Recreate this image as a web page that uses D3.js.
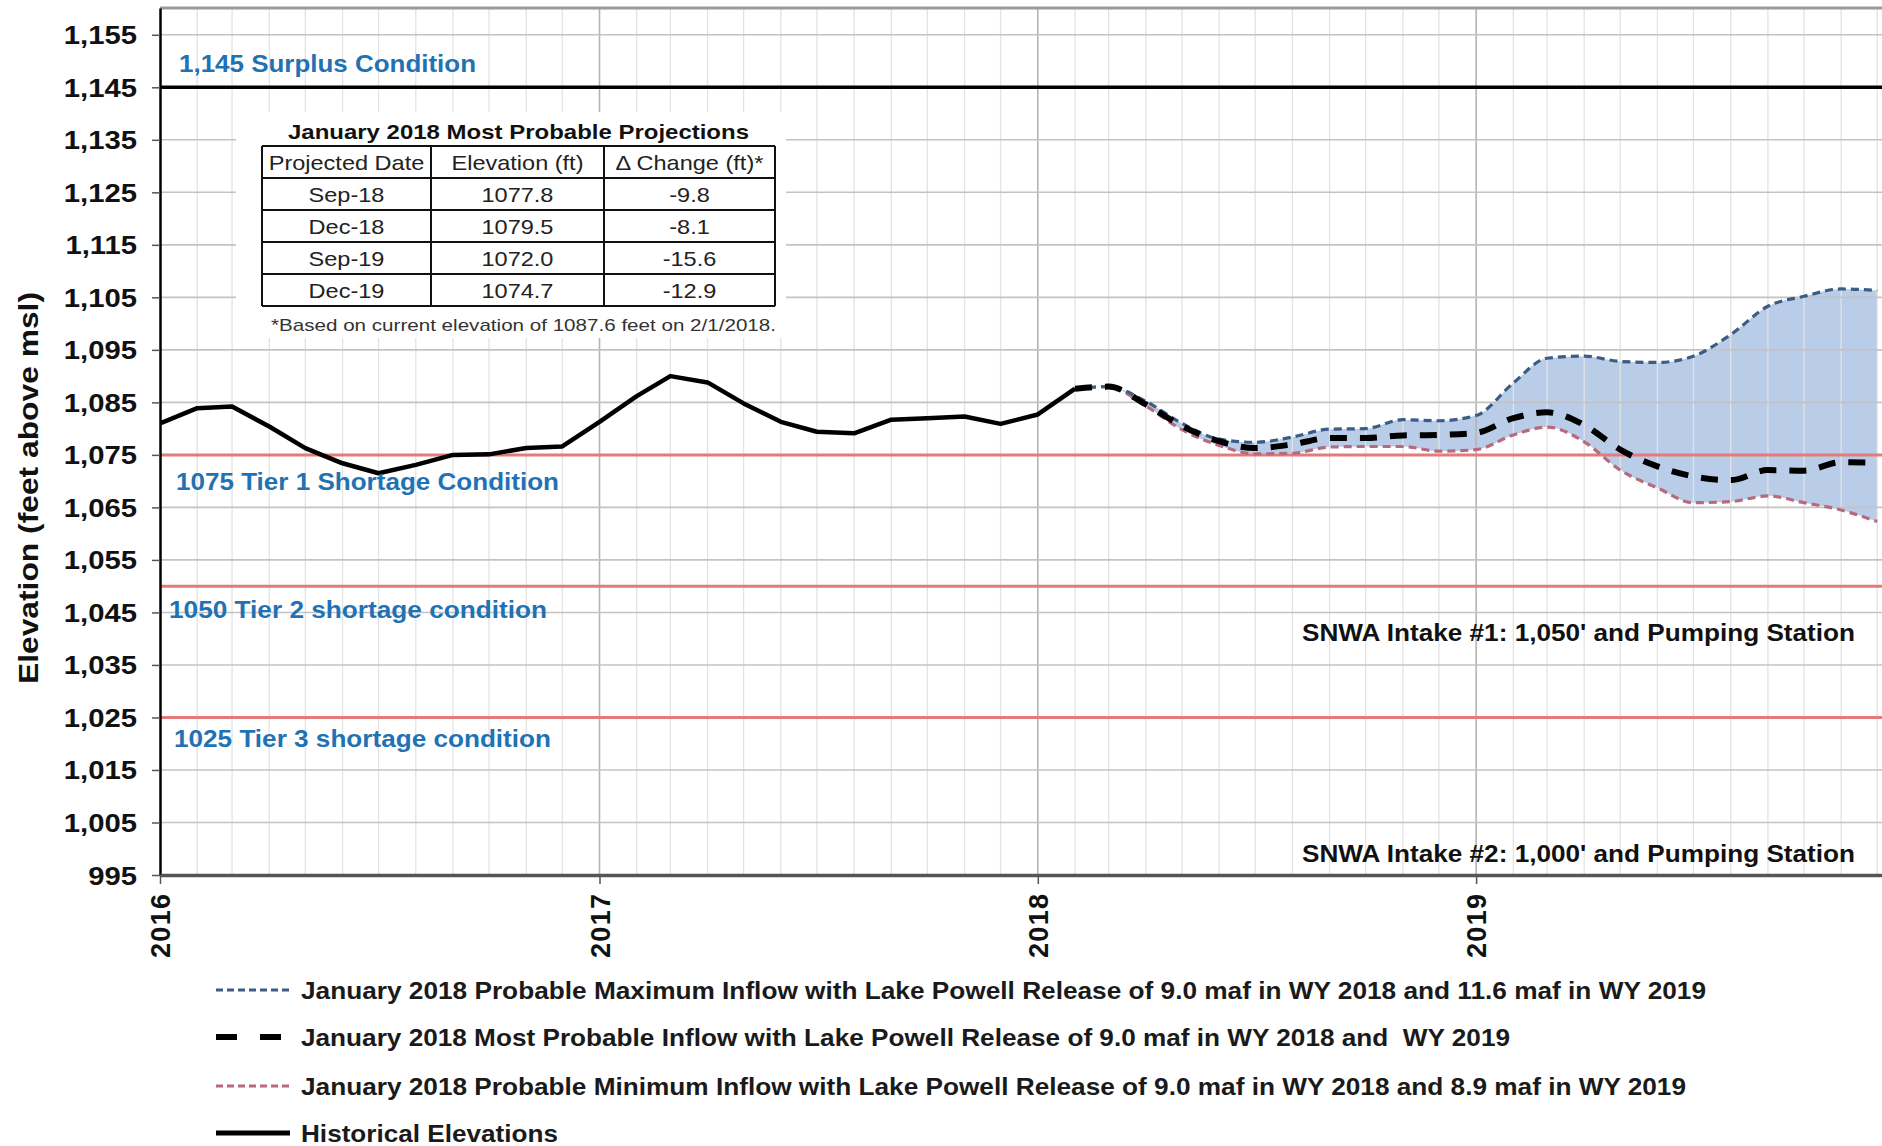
<!DOCTYPE html>
<html>
<head>
<meta charset="utf-8">
<script src="https://cdnjs.cloudflare.com/ajax/libs/d3/7.8.5/d3.min.js"></script>
<style>
  body { margin: 0; background: #fff; }
  svg text { font-family: "Liberation Sans", Arial, sans-serif; white-space: pre; }
</style>
</head>
<body>
<div id="chart"></div>
<script>
// ---- data ----
var histMonths = ["2016-01","2016-02","2016-03","2016-04","2016-05","2016-06","2016-07","2016-08","2016-09","2016-10","2016-11","2016-12",
                  "2017-01","2017-02","2017-03","2017-04","2017-05","2017-06","2017-07","2017-08","2017-09","2017-10","2017-11","2017-12",
                  "2018-01","2018-02"];
var histElev = [1081.0, 1083.9, 1084.2, 1080.4, 1076.3, 1073.4, 1071.5, 1073.1, 1075.0, 1075.1, 1076.3, 1076.6,
                1081.3, 1086.2, 1090.0, 1088.8, 1084.8, 1081.3, 1079.4, 1079.1, 1081.7, 1082.0, 1082.3, 1080.9,
                1082.7, 1087.6];

var projMonths = ["2018-02","2018-03","2018-04","2018-05","2018-06","2018-07","2018-08","2018-09","2018-10","2018-11","2018-12",
                  "2019-01","2019-02","2019-03","2019-04","2019-05","2019-06","2019-07","2019-08","2019-09","2019-10","2019-11","2019-12"];
var maxElev  = [1087.6, 1088.0, 1085.2, 1081.0, 1078.0, 1077.4, 1078.4, 1079.9, 1080.0, 1081.7, 1081.5,
                1082.5, 1088.7, 1093.4, 1093.8, 1092.8, 1092.6, 1093.8, 1097.9, 1103.3, 1105.2, 1106.6, 1106.3];
var mostElev = [1087.6, 1088.0, 1084.6, 1080.5, 1077.6, 1076.3, 1077.0, 1078.2, 1078.2, 1078.7, 1078.8,
                1079.2, 1082.0, 1083.1, 1080.7, 1076.0, 1072.8, 1070.9, 1070.2, 1072.1, 1072.0, 1073.6, 1073.5];
var minElev  = [1087.6, 1088.0, 1084.3, 1079.8, 1076.8, 1075.2, 1075.3, 1076.5, 1076.6, 1076.6, 1075.7,
                1076.0, 1078.8, 1080.3, 1077.5, 1072.1, 1068.7, 1065.9, 1066.1, 1067.2, 1065.9, 1064.5, 1062.3];

var yTicks = [995, 1005, 1015, 1025, 1035, 1045, 1055, 1065, 1075, 1085, 1095, 1105, 1115, 1125, 1135, 1145, 1155];
var yearTicks = ["2016", "2017", "2018", "2019"];

var refLevels = [1145, 1075, 1050, 1025];
var refLabels = ["1,145 Surplus Condition", "1075 Tier 1 Shortage Condition",
                 "1050 Tier 2 shortage condition", "1025 Tier 3 shortage condition"];
var intakeLevels = [1050, 1000];
var intakeLabels = ["SNWA Intake #1: 1,050' and Pumping Station", "SNWA Intake #2: 1,000' and Pumping Station"];

var tableTitle = "January 2018 Most Probable Projections";
var tableHeader = ["Projected Date", "Elevation (ft)", "\u0394 Change (ft)*"];
var tableDates = ["Sep-18", "Dec-18", "Sep-19", "Dec-19"];
var tableElev = ["1077.8", "1079.5", "1072.0", "1074.7"];
var tableChange = ["-9.8", "-8.1", "-15.6", "-12.9"];
var tableNote = "*Based on current elevation of 1087.6 feet on 2/1/2018.";

var legendLabels = [
  "January 2018 Probable Maximum Inflow with Lake Powell Release of 9.0 maf in WY 2018 and 11.6 maf in WY 2019",
  "January 2018 Most Probable Inflow with Lake Powell Release of 9.0 maf in WY 2018 and  WY 2019",
  "January 2018 Probable Minimum Inflow with Lake Powell Release of 9.0 maf in WY 2018 and 8.9 maf in WY 2019",
  "Historical Elevations"
];

// ---- layout ----
var svgWidth = 1882;
var svgHeight = 1146;
var plot = { left: 160, right: 1882, top: 8, bottom: 875 };

var svg = d3.select("#chart").append("svg")
  .attr("width", svgWidth)
  .attr("height", svgHeight);

var parseMonth = d3.timeParse("%Y-%m");

var x = d3.scaleTime()
  .domain([new Date(2016, 0, 1), new Date(2019, 11, 5)])
  .range([plot.left, plot.right]);

var y = d3.scaleLinear()
  .domain([995, 1160.1])
  .range([plot.bottom, plot.top]);

// stretch text horizontally like the (wide) original
function stretch(sel, k) {
  sel.each(function() {
    var w = this.getComputedTextLength();
    d3.select(this).attr("textLength", w * k).attr("lengthAdjust", "spacingAndGlyphs");
  });
}
function fitTo(sel, w) {
  sel.attr("textLength", w).attr("lengthAdjust", "spacingAndGlyphs");
}

svg.append("defs").append("clipPath").attr("id", "plotClip")
  .append("rect")
  .attr("x", plot.left).attr("y", plot.top)
  .attr("width", plot.right - plot.left).attr("height", plot.bottom - plot.top);

var hist = histMonths.map(function(m, i) { return { date: parseMonth(m), v: histElev[i] }; });
var proj = projMonths.map(function(m, i) {
  return { date: parseMonth(m), max: maxElev[i], most: mostElev[i], min: minElev[i] };
});

var chartGroup = svg.append("g").attr("clip-path", "url(#plotClip)");

// shaded range between probable max and min
var band = d3.area()
  .x(d => x(d.date))
  .y0(d => y(d.min))
  .y1(d => y(d.max))
  .curve(d3.curveMonotoneX);

chartGroup.append("path")
  .datum(proj)
  .attr("d", band)
  .attr("fill", "#b9cde9");

// gridlines
var months = d3.timeMonth.range(new Date(2016, 0, 1), new Date(2019, 11, 6));
chartGroup.append("g").selectAll("line")
  .data(months)
  .join("line")
  .attr("x1", d => x(d)).attr("x2", d => x(d))
  .attr("y1", plot.top).attr("y2", plot.bottom)
  .attr("stroke", d => d.getMonth() === 0 ? "#b4b4b4" : "#e3e3e3")
  .attr("stroke-width", d => d.getMonth() === 0 ? 1.6 : 1.3);

chartGroup.append("g").selectAll("line")
  .data(yTicks.slice(1))
  .join("line")
  .attr("x1", plot.left).attr("x2", plot.right)
  .attr("y1", d => y(d)).attr("y2", d => y(d))
  .attr("stroke", "#c3c3c3")
  .attr("stroke-width", 1.6);

// top border of the plot area
svg.append("line")
  .attr("x1", plot.left).attr("x2", plot.right)
  .attr("y1", plot.top).attr("y2", plot.top)
  .attr("stroke", "#9a9a9a").attr("stroke-width", 3);

// projections table (white box over the grid)
var tbl = { left: 262, cols: [262, 431, 604, 775], top: 146, rowH: 32 };
svg.append("rect")
  .attr("x", 236).attr("y", 112).attr("width", 550).attr("height", 226)
  .attr("fill", "#fff");

svg.append("text")
  .attr("x", (tbl.cols[0] + tbl.cols[3]) / 2).attr("y", 139)
  .attr("text-anchor", "middle")
  .attr("font-size", "21px").attr("font-weight", "bold").attr("fill", "#111")
  .text(tableTitle)
  .call(fitTo, 461);

var tableRows = [tableHeader].concat(tableDates.map(function(d, i) { return [d, tableElev[i], tableChange[i]]; }));
tableRows.forEach(function(row, r) {
  row.forEach(function(cell, c) {
    svg.append("text")
      .attr("x", (tbl.cols[c] + tbl.cols[c + 1]) / 2)
      .attr("y", tbl.top + r * tbl.rowH + tbl.rowH / 2 + 8)
      .attr("text-anchor", "middle")
      .attr("font-size", "21px").attr("fill", "#222")
      .text(cell)
      .call(stretch, 1.12);
  });
});
var tblBottom = tbl.top + tableRows.length * tbl.rowH;
for (var r = 0; r <= tableRows.length; r++) {
  svg.append("line")
    .attr("x1", tbl.cols[0]).attr("x2", tbl.cols[3])
    .attr("y1", tbl.top + r * tbl.rowH).attr("y2", tbl.top + r * tbl.rowH)
    .attr("stroke", "#111").attr("stroke-width", 2);
}
tbl.cols.forEach(function(cx) {
  svg.append("line")
    .attr("x1", cx).attr("x2", cx)
    .attr("y1", tbl.top).attr("y2", tblBottom)
    .attr("stroke", "#111").attr("stroke-width", 2);
});
svg.append("text")
  .attr("x", 271).attr("y", 331)
  .attr("font-size", "17px").attr("fill", "#333")
  .text(tableNote)
  .call(fitTo, 505);

// reference levels
var lineGroup = svg.append("g").attr("clip-path", "url(#plotClip)");
lineGroup.selectAll("line.ref")
  .data(refLevels)
  .join("line")
  .attr("class", "ref")
  .attr("x1", plot.left).attr("x2", plot.right)
  .attr("y1", d => y(d)).attr("y2", d => y(d))
  .attr("stroke", d => d === 1145 ? "#000" : "#e57a7a")
  .attr("stroke-width", d => d === 1145 ? 3.5 : 3);

// projection lines
function projLine(key) {
  return d3.line().x(d => x(d.date)).y(d => y(d[key])).curve(d3.curveMonotoneX);
}
lineGroup.append("path")
  .datum(proj).attr("d", projLine("min"))
  .attr("fill", "none").attr("stroke", "#b8697a")
  .attr("stroke-width", 3.2).attr("stroke-dasharray", "8,5");
lineGroup.append("path")
  .datum(proj).attr("d", projLine("max"))
  .attr("fill", "none").attr("stroke", "#3b5c85")
  .attr("stroke-width", 3.2).attr("stroke-dasharray", "8,5");
lineGroup.append("path")
  .datum(proj).attr("d", projLine("most"))
  .attr("fill", "none").attr("stroke", "#000")
  .attr("stroke-width", 6).attr("stroke-dasharray", "17,13");

// historical
lineGroup.append("path")
  .datum(hist)
  .attr("d", d3.line().x(d => x(d.date)).y(d => y(d.v)))
  .attr("fill", "none").attr("stroke", "#000")
  .attr("stroke-width", 4.5).attr("stroke-linejoin", "round");

// axes
var leftAxis = d3.axisLeft(y).tickValues(yTicks).tickFormat(d3.format(",")).tickSizeInner(8).tickSizeOuter(0).tickPadding(15);
var yAxisG = svg.append("g")
  .attr("transform", `translate(${plot.left}, 0)`)
  .call(leftAxis);
yAxisG.select(".domain").attr("stroke", "#000").attr("stroke-width", 2.5);
yAxisG.selectAll(".tick line").attr("stroke", "#555").attr("stroke-width", 1.5);
yAxisG.selectAll(".tick text")
  .attr("font-size", "25px").attr("font-weight", "bold").attr("fill", "#111")
  .attr("font-family", "Liberation Sans, Arial, sans-serif")
  .attr("dy", "0.36em")
  .call(stretch, 1.17);

var bottomAxis = d3.axisBottom(x)
  .tickValues(yearTicks.map(d => new Date(+d, 0, 1)))
  .tickFormat(d3.timeFormat("%Y"))
  .tickSizeInner(9).tickSizeOuter(0);
var xAxisG = svg.append("g")
  .attr("transform", `translate(0, ${plot.bottom})`)
  .call(bottomAxis);
xAxisG.select(".domain").attr("stroke", "#555").attr("stroke-width", 3.5);
xAxisG.selectAll(".tick line").attr("stroke", "#555").attr("stroke-width", 1.5);
xAxisG.selectAll(".tick text")
  .attr("font-size", "27px").attr("font-weight", "bold").attr("fill", "#111")
  .attr("font-family", "Liberation Sans, Arial, sans-serif")
  .attr("transform", "rotate(-90)")
  .attr("text-anchor", "end")
  .attr("x", -19).attr("y", 0).attr("dy", "0.36em")
  .attr("textLength", 64).attr("lengthAdjust", "spacing");

// y axis title
svg.append("text")
  .attr("transform", "translate(38, 488) rotate(-90)")
  .attr("text-anchor", "middle")
  .attr("font-size", "27px").attr("font-weight", "bold").attr("fill", "#111")
  .text("Elevation (feet above msl)")
  .call(fitTo, 392);

// level annotations
var refLabelPos = [{ x: 179, dy: -15 }, { x: 176, dy: 35 }, { x: 169, dy: 32 }, { x: 174, dy: 30 }];
var refLabelW = [297, 383, 378, 377];
refLabels.forEach(function(t, i) {
  svg.append("text")
    .attr("x", refLabelPos[i].x)
    .attr("y", y(refLevels[i]) + refLabelPos[i].dy)
    .attr("font-size", "24px").attr("font-weight", "bold").attr("fill", "#1f72b4")
    .text(t)
    .call(fitTo, refLabelW[i]);
});

var intakeDy = [55, 13];
intakeLabels.forEach(function(t, i) {
  svg.append("text")
    .attr("x", 1302)
    .attr("y", y(intakeLevels[i]) + intakeDy[i])
    .attr("font-size", "23px").attr("font-weight", "bold").attr("fill", "#111")
    .text(t)
    .call(fitTo, 553);
});

// legend
var legendY = [990, 1037, 1086, 1133];
var legendW = [1405, 1209, 1385, 257];
var legendStroke = [
  { c: "#3b5c85", w: 3.2, dash: "7,4" },
  { c: "#000", w: 6, dash: "21,23" },
  { c: "#b8697a", w: 3.2, dash: "7,4" },
  { c: "#000", w: 5, dash: null }
];
var legend = svg.append("g");
legendLabels.forEach(function(t, i) {
  legend.append("line")
    .attr("x1", 216).attr("x2", 290)
    .attr("y1", legendY[i]).attr("y2", legendY[i])
    .attr("stroke", legendStroke[i].c)
    .attr("stroke-width", legendStroke[i].w)
    .attr("stroke-dasharray", legendStroke[i].dash);
  legend.append("text")
    .attr("x", 301).attr("y", legendY[i] + 8.5)
    .attr("font-size", "24px").attr("font-weight", "bold").attr("fill", "#1a1a1a")
    .text(t)
    .call(fitTo, legendW[i]);
});
</script>
</body>
</html>
